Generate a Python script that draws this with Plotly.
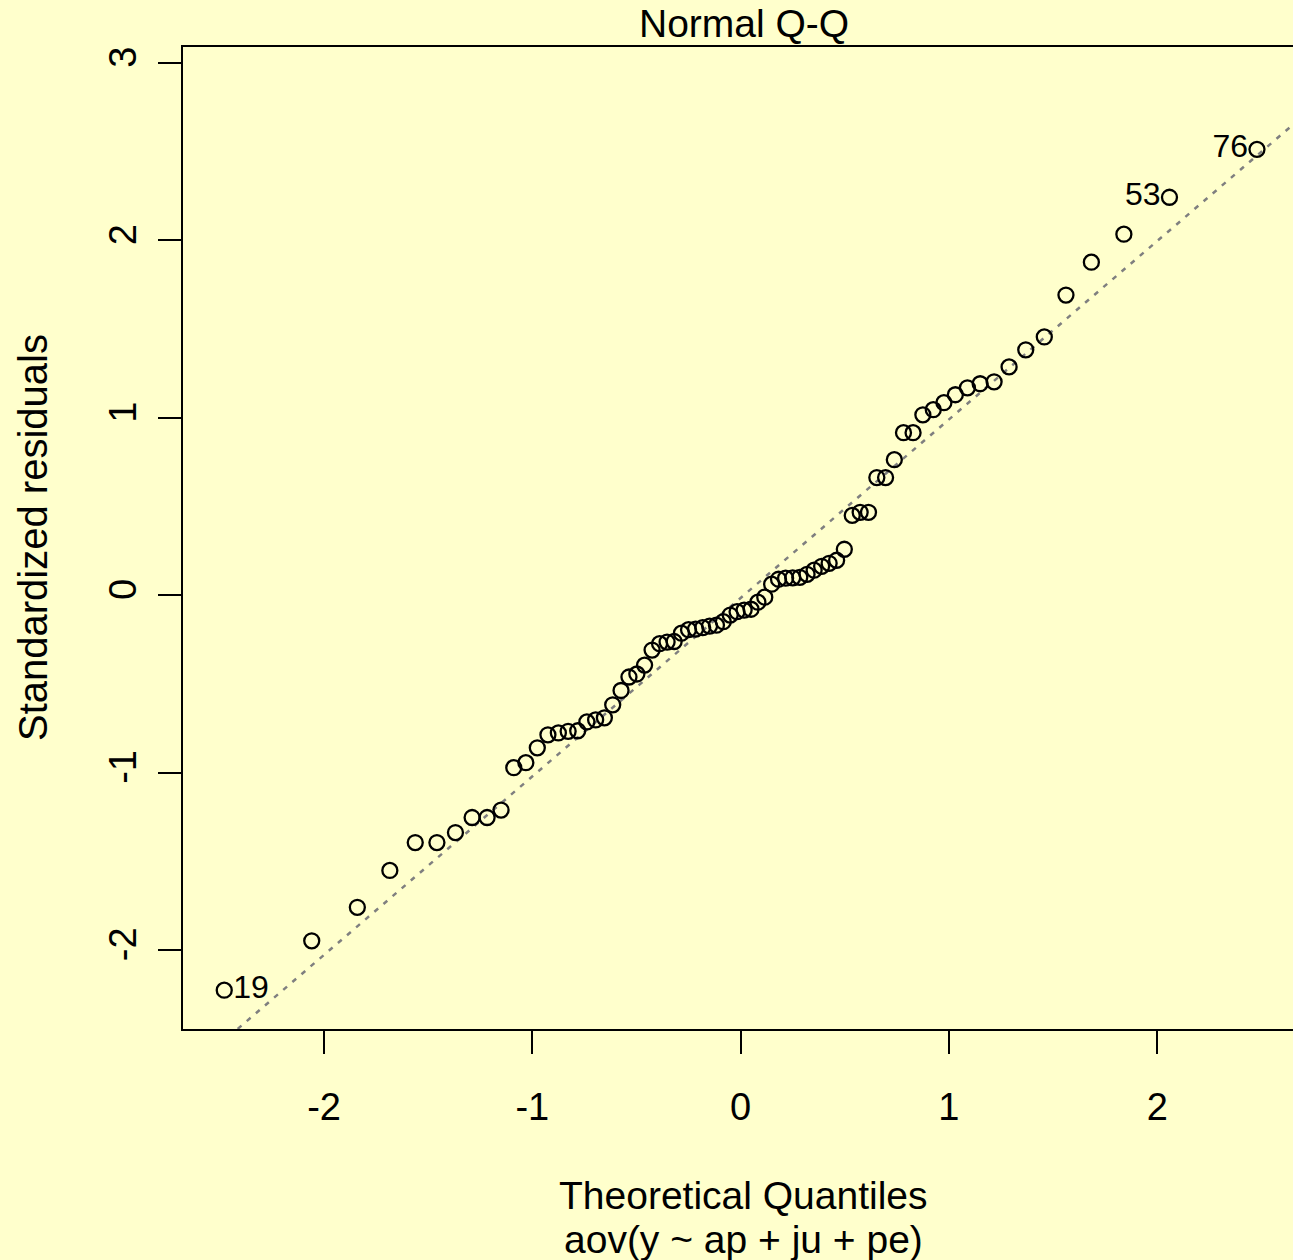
import numpy as np
import plotly.graph_objects as go

# Theoretical normal quantiles (n = 76)
theoretical = [-2.479, -2.059, -1.840, -1.684, -1.562, -1.458, -1.369, -1.289, -1.217, -1.150,
               -1.089, -1.031, -0.976, -0.925, -0.875, -0.828, -0.782, -0.738, -0.696, -0.654,
               -0.614, -0.574, -0.536, -0.498, -0.461, -0.425, -0.389, -0.353, -0.319, -0.284,
               -0.250, -0.216, -0.182, -0.149, -0.116, -0.083, -0.050, -0.017,
               0.017, 0.050, 0.083, 0.116, 0.149, 0.182, 0.216, 0.250, 0.284, 0.319,
               0.353, 0.389, 0.425, 0.461, 0.498, 0.536, 0.574, 0.614, 0.654, 0.696,
               0.738, 0.782, 0.828, 0.875, 0.925, 0.976, 1.031, 1.089, 1.150, 1.217,
               1.289, 1.369, 1.458, 1.562, 1.684, 1.840, 2.059, 2.479]

# Sorted standardized residuals
std_residuals = [-2.226, -1.948, -1.759, -1.551, -1.394, -1.394, -1.338, -1.253, -1.253, -1.211,
                 -0.972, -0.944, -0.860, -0.787, -0.776, -0.767, -0.764, -0.714, -0.703, -0.691,
                 -0.618, -0.537, -0.461, -0.444, -0.394, -0.309, -0.273, -0.264, -0.261, -0.214,
                 -0.194, -0.191, -0.183, -0.174, -0.169, -0.149, -0.112, -0.093, -0.084, -0.079,
                 -0.039, -0.011, 0.062, 0.090, 0.096, 0.098, 0.101, 0.118, 0.141, 0.163,
                 0.180, 0.197, 0.259, 0.450, 0.467, 0.467, 0.663, 0.663, 0.764, 0.916,
                 0.916, 1.017, 1.046, 1.085, 1.130, 1.169, 1.192, 1.203, 1.287, 1.383,
                 1.456, 1.692, 1.877, 2.035, 2.243, 2.513]

# Labelled extreme observations: (index in sorted order, label, side)
labelled = [(0, "19", "middle right"), (74, "53", "middle left"), (75, "76", "middle left")]

x_ticks = [-2, -1, 0, 1, 2]
y_ticks = [-2, -1, 0, 1, 2, 3]

title_text = "Normal Q-Q"
x_title = "Theoretical Quantiles"
sub_title = "aov(y ~ ap + ju + pe)"
y_title = "Standardized residuals"

BG = "#FFFFCC"
FONT = "Liberation Sans, Arial, Helvetica, sans-serif"

x_range = [-2.677, 2.652]
y_range = [-2.445, 3.09]

# qqline through the quartiles
y_q = np.percentile(std_residuals, [25, 75])
z_q = np.array([-0.6745, 0.6745])
slope = (y_q[1] - y_q[0]) / (z_q[1] - z_q[0])
intercept = y_q[0] - slope * z_q[0]
line_x = np.array(x_range)
line_y = intercept + slope * line_x

fig = go.Figure()
fig.add_trace(go.Scatter(
    x=line_x, y=line_y, mode="lines",
    line=dict(color="#7F7F7F", width=2.5, dash="5px,7px"),
    hoverinfo="skip", showlegend=False))
fig.add_trace(go.Scatter(
    x=theoretical, y=std_residuals, mode="markers",
    marker=dict(symbol="circle-open", size=15, color="black", line=dict(width=2.3, color="black")),
    showlegend=False, cliponaxis=False))

for idx, lab, pos in labelled:
    fig.add_trace(go.Scatter(
        x=[theoretical[idx]], y=[std_residuals[idx]], mode="text",
        text=[" " + lab + " "], textposition=pos,
        textfont=dict(family=FONT, size=32, color="black"),
        showlegend=False, hoverinfo="skip", cliponaxis=False))

L, T, B = 183, 47, 231
W, H = 1293, 1260
plot_w = W - L
plot_h = H - T - B

axis_common = dict(
    showgrid=False, zeroline=False, showline=True, linecolor="black", linewidth=2,
    ticks="outside", ticklen=23, tickwidth=2, tickcolor="black",
    tickfont=dict(family=FONT, size=38, color="black"))

fig.update_layout(
    width=W, height=H,
    margin=dict(l=L, r=0, t=T, b=B, pad=0),
    paper_bgcolor=BG, plot_bgcolor=BG,
    font=dict(family=FONT, color="black"),
    xaxis=dict(range=x_range, tickvals=x_ticks, ticktext=[str(v) for v in x_ticks],
               mirror=True, ticklabelstandoff=20, **axis_common),
    yaxis=dict(range=y_range, tickvals=y_ticks, ticktext=[str(v) for v in y_ticks],
               tickangle=-90, mirror=False, ticklabelstandoff=7, **axis_common),
)

def px_x(p):
    return (p - L) / plot_w

def px_y(p):
    return (H - B - p) / plot_h

annotations = [
    dict(text=title_text, x=px_x(744), y=px_y(23), font=dict(size=39)),
    dict(text=x_title, x=px_x(743), y=px_y(1195), font=dict(size=39)),
    dict(text=sub_title, x=px_x(743), y=px_y(1239), font=dict(size=39)),
    dict(text=y_title, x=px_x(33), y=px_y(538), font=dict(size=40), textangle=-90),
]
for a in annotations:
    a.update(xref="paper", yref="paper", showarrow=False, xanchor="center", yanchor="middle")
    a["font"].update(family=FONT, color="black")
fig.update_layout(annotations=annotations)

fig.write_html("out.html")
